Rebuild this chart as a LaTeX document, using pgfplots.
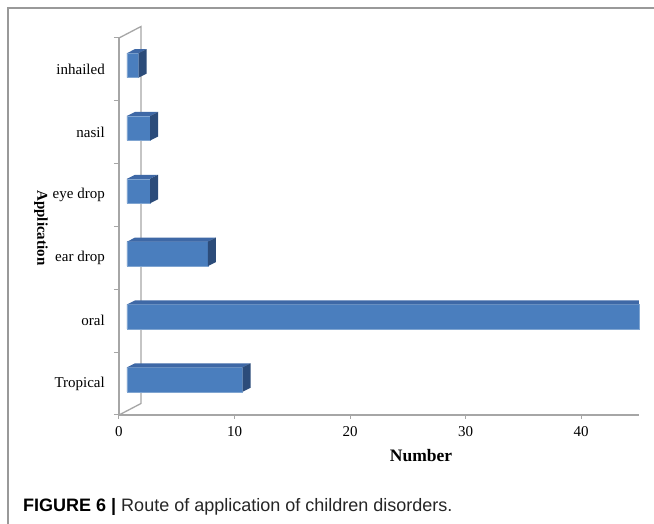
\documentclass[border=0pt]{standalone}
\usepackage{pgfplots}
\pgfplotsset{compat=1.18}
\usepackage{fontspec}
\setmainfont{Liberation Serif}
\newfontfamily\capfont{Liberation Sans}
\definecolor{frontc}{HTML}{4A7EBE}
\definecolor{topc}{HTML}{3E68A6}
\definecolor{sidec}{HTML}{2C4C7A}
\definecolor{wallc}{HTML}{A6A6A6}
\begin{document}
\begin{tikzpicture}
\useasboundingbox (-119pt,-109pt) rectangle (535pt,415pt);
\fill[white] (-119pt,-109pt) rectangle (535pt,415pt);
\draw[gray!80, line width=1.5pt] (-111pt,-109pt) -- (-111pt,407pt) -- (535pt,407pt);
\begin{axis}[
  at={(0pt,0pt)}, anchor=south west,
  scale only axis, width=520pt, height=377pt,
  xmin=0, xmax=45, ymin=-0.5, ymax=5.5,
  clip=false,
  axis x line*=bottom, axis y line*=left,
  axis line style={wallc, line width=1.3pt, -},
  xtick={0,10,20,30,40},
  ytick={0,1,2,3,4,5},
  yticklabels={Tropical,oral,ear drop,eye drop,nasil,inhailed},
  minor ytick={-0.5,0.5,1.5,2.5,3.5,4.5,5.5},
  tick align=outside,
  major tick length=4pt, minor tick length=5pt,
  major x tick style={wallc, line width=1pt},
  major y tick style={draw=none},
  minor y tick style={wallc, line width=1pt},
  /pgf/number format/assume math mode=true,
  xticklabel style={font=\fontsize{15}{17}\selectfont, inner sep=2pt, yshift=-5pt},
  yticklabel style={font=\fontsize{15}{17}\selectfont, anchor=east, inner sep=0pt, xshift=-10pt},
]
% back walls
\draw[wallc, line width=1.3pt] (axis cs:0,5.5) -- (axis cs:1.904,5.683) -- (axis cs:1.904,-0.317) -- (axis cs:0,-0.5);
% front faces
\addplot[xbar, bar width=0.39, bar shift=0.0637, xshift=8pt, fill=frontc, draw=frontc!70!white, line width=0.5pt]
  coordinates {(10,0) (44.31,1) (7,2) (2,3) (2,4) (1,5)};
% top faces
\addplot[fill=topc, draw=none, forget plot] coordinates {(0.692,0.259) (10.692,0.259) (11.384,0.323) (1.384,0.323)};
\addplot[fill=topc, draw=none, forget plot] coordinates {(0.692,1.259) (45,1.259) (45,1.323) (1.384,1.323)};
\addplot[fill=topc, draw=none, forget plot] coordinates {(0.692,2.259) (7.692,2.259) (8.384,2.323) (1.384,2.323)};
\addplot[fill=topc, draw=none, forget plot] coordinates {(0.692,3.259) (2.692,3.259) (3.384,3.323) (1.384,3.323)};
\addplot[fill=topc, draw=none, forget plot] coordinates {(0.692,4.259) (2.692,4.259) (3.384,4.323) (1.384,4.323)};
\addplot[fill=topc, draw=none, forget plot] coordinates {(0.692,5.259) (1.692,5.259) (2.384,5.323) (1.384,5.323)};
% side faces
\addplot[fill=sidec, draw=none, forget plot] coordinates {(10.692,-0.131) (10.692,0.259) (11.384,0.323) (11.384,-0.067)};
\addplot[fill=sidec, draw=none, forget plot] coordinates {(7.692,1.869) (7.692,2.259) (8.384,2.323) (8.384,1.933)};
\addplot[fill=sidec, draw=none, forget plot] coordinates {(2.692,2.869) (2.692,3.259) (3.384,3.323) (3.384,2.933)};
\addplot[fill=sidec, draw=none, forget plot] coordinates {(2.692,3.869) (2.692,4.259) (3.384,4.323) (3.384,3.933)};
\addplot[fill=sidec, draw=none, forget plot] coordinates {(1.692,4.869) (1.692,5.259) (2.384,5.323) (2.384,4.933)};
\end{axis}
\node[font=\bfseries\fontsize{17.5}{20}\selectfont] at (302pt,-41pt) {Number};
\node[font=\bfseries\fontsize{15}{17}\selectfont, rotate=-90] at (-78pt,187pt) {Application};
\node[anchor=base west, font=\capfont\fontsize{18}{20}\selectfont, inner sep=0pt] at (-96pt,-97pt) {{\bfseries FIGURE 6 |} \textcolor{black!85}{Route of application of children disorders.}};
\end{tikzpicture}
\end{document}
